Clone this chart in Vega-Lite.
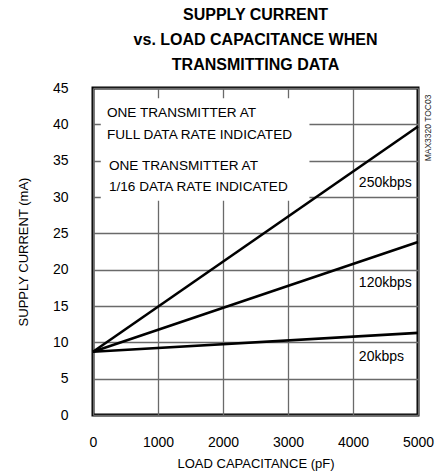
{
  "$schema": "https://vega.github.io/schema/vega-lite/v6.json",
  "width": 325,
  "height": 327,
  "autosize": "none",
  "padding": {"left": 93, "top": 88, "right": 24, "bottom": 59},
  "background": "white",
  "config": {
    "font": "Liberation Sans",
    "view": {"stroke": "black", "strokeWidth": 3},
    "axis": {
      "grid": true,
      "gridColor": "#6a6a6a",
      "gridWidth": 1.3,
      "gridOpacity": 1,
      "domain": false,
      "ticks": false,
      "labelOverlap": false,
      "labelFlush": false,
      "labelColor": "black",
      "labelFontSize": 14,
      "labelFont": "Liberation Sans",
      "titleColor": "black",
      "titleFontSize": 13,
      "titleFontWeight": "normal",
      "titleFont": "Liberation Sans"
    }
  },
  "title": {
    "text": ["SUPPLY CURRENT", "vs. LOAD CAPACITANCE WHEN", "TRANSMITTING DATA"],
    "fontSize": 16,
    "fontWeight": "bold",
    "lineHeight": 25,
    "anchor": "middle",
    "offset": 8,
    "font": "Liberation Sans",
    "color": "black"
  },
  "encoding": {
    "x": {"field": "cap", "type": "quantitative", "scale": {"domain": [0, 5000], "nice": false},
      "axis": {"values": [0, 1000, 2000, 3000, 4000, 5000], "title": "LOAD CAPACITANCE (pF)", "labelPadding": 20, "titlePadding": 8, "format": "d"}},
    "y": {"field": "current", "type": "quantitative", "scale": {"domain": [0, 45], "nice": false},
      "axis": {"values": [0, 5, 10, 15, 20, 25, 30, 35, 40, 45], "title": "SUPPLY CURRENT (mA)", "labelPadding": 25, "titlePadding": 22}}
  },
  "layer": [
    {
      "data": {"values": [{"cap": 120, "cap2": 3330, "current": 29.5, "current2": 43.6}]},
      "mark": {"type": "rect", "fill": "white"},
      "encoding": {
        "x2": {"field": "cap2"},
        "y2": {"field": "current2"}
      }
    },
    {
      "data": {"values": [
        {"rate": "250kbps", "cap": 0, "current": 8.7},
        {"rate": "250kbps", "cap": 5000, "current": 39.7},
        {"rate": "120kbps", "cap": 0, "current": 8.7},
        {"rate": "120kbps", "cap": 5000, "current": 23.8},
        {"rate": "20kbps", "cap": 0, "current": 8.7},
        {"rate": "20kbps", "cap": 5000, "current": 11.3}
      ]},
      "mark": {"type": "line", "color": "black", "strokeWidth": 2.6},
      "encoding": {
        "detail": {"field": "rate"}
      }
    },
    {
      "data": {"values": [
        {"label": "ONE TRANSMITTER AT", "cap": 215, "current": 41.5},
        {"label": "FULL DATA RATE INDICATED", "cap": 215, "current": 38.6},
        {"label": "ONE TRANSMITTER AT", "cap": 245, "current": 34.2},
        {"label": "1/16 DATA RATE INDICATED", "cap": 245, "current": 31.4}
      ]},
      "mark": {"type": "text", "align": "left", "baseline": "middle", "fontSize": 13.6, "color": "black"},
      "encoding": {
        "text": {"field": "label"}
      }
    },
    {
      "data": {"values": [
        {"label": "250kbps", "cap": 4090, "current": 31.9},
        {"label": "120kbps", "cap": 4090, "current": 18.2},
        {"label": "20kbps", "cap": 4090, "current": 8.0}
      ]},
      "mark": {"type": "text", "align": "left", "baseline": "middle", "fontSize": 14, "color": "black"},
      "encoding": {
        "text": {"field": "label"}
      }
    },
    {
      "data": {"values": [{"label": "MAX3320 TOC03", "cap": 5155, "current": 39.5}]},
      "mark": {"type": "text", "align": "center", "baseline": "middle", "angle": 270, "fontSize": 8.5, "color": "#222"},
      "encoding": {
        "text": {"field": "label"}
      }
    }
  ]
}
